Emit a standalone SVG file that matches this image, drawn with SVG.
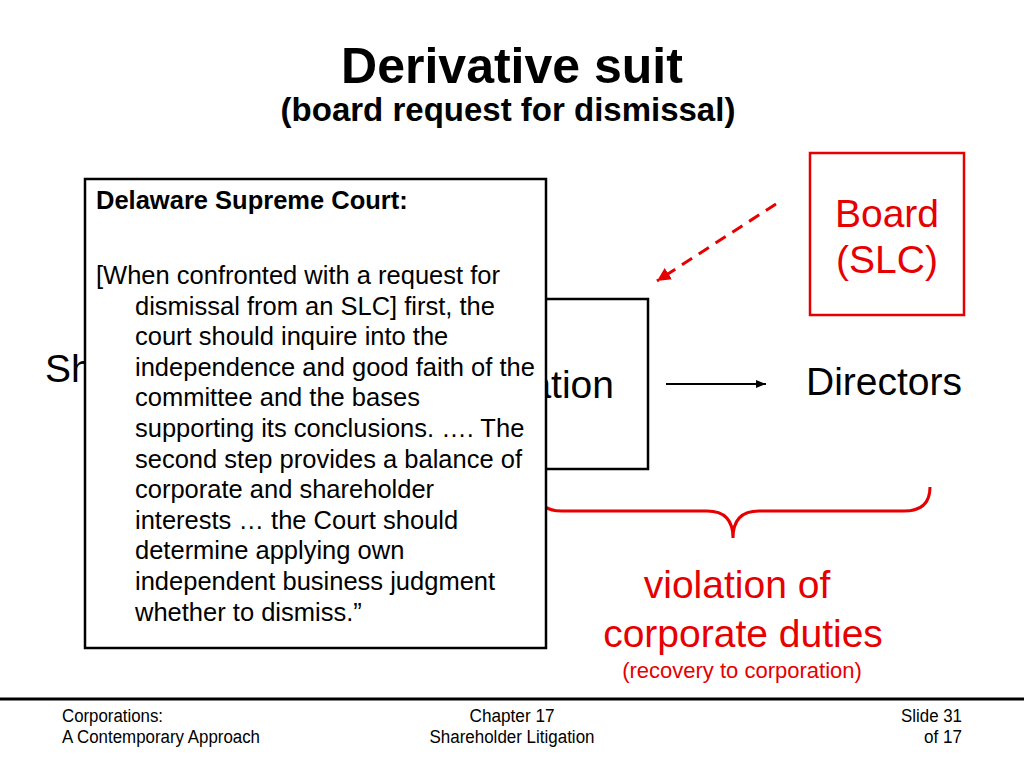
<svg xmlns="http://www.w3.org/2000/svg" width="1024" height="768" viewBox="0 0 1024 768">
  <style>
    text { font-family: "Liberation Sans", Arial, sans-serif; }
    .title { font-size: 50px; font-weight: bold; fill: #000; }
    .sub { font-size: 33px; font-weight: bold; fill: #000; }
    .big { font-size: 39px; fill: #000; }
    .red { fill: #e60000; }
    .quote { font-size: 25.5px; fill: #000; }
    .foot { font-family: "Liberation Sans Narrow", "Liberation Sans", Arial, sans-serif; font-size: 18px; fill: #000; }
    .box { fill: #fff; stroke: #000; stroke-width: 2.5; }
    .redbox { fill: none; stroke: #e60000; stroke-width: 2.5; }
  </style>
  <defs>
    <marker id="blackhead" viewBox="0 0 10 10" refX="10" refY="5" markerWidth="5" markerHeight="5" orient="auto" markerUnits="strokeWidth">
      <path d="M0,1 L10,5 L0,9 Z" fill="#000"/>
    </marker>
    <marker id="redhead" viewBox="0 0 10 10" refX="10" refY="5" markerWidth="4.5" markerHeight="4.5" orient="auto" markerUnits="strokeWidth">
      <path d="M0,0 L10,5 L0,10 Z" fill="#e60000"/>
    </marker>
  </defs>
  <rect width="1024" height="768" fill="#fff"/>

  <g id="title">
    <text class="title" x="512" y="83" text-anchor="middle">Derivative suit</text>
    <text class="sub" x="508" y="121" text-anchor="middle">(board request for dismissal)</text>
  </g>

  <g id="shareholder">
    <text class="big" x="45" y="382">Sh</text>
  </g>

  <g id="corporation">
    <rect class="box" x="380" y="299" width="268" height="170"/>
    <text class="big" x="614" y="398" text-anchor="end">ation</text>
  </g>

  <g id="directors">
    <text class="big" x="884" y="395" text-anchor="middle">Directors</text>
  </g>

  <g id="board">
    <rect class="redbox" x="810" y="153" width="154" height="162"/>
    <text class="big red" x="887" y="227" text-anchor="middle">Board</text>
    <text class="big red" x="887" y="273" text-anchor="middle">(SLC)</text>
  </g>

  <g id="connectors">
    <line x1="666" y1="384" x2="766" y2="384" stroke="#000" stroke-width="2" marker-end="url(#blackhead)"/>
    <line x1="776" y1="204" x2="657" y2="281" stroke="#e60000" stroke-width="3" stroke-dasharray="12 8" marker-end="url(#redhead)"/>
    <path d="M536,487 Q536,511 562,511 L707,511 Q733,511 733,538 Q733,511 759,511 L904,511 Q930,511 930,487" fill="none" stroke="#e60000" stroke-width="3"/>
  </g>

  <g id="violation">
    <text class="big red" x="737" y="598" text-anchor="middle">violation of</text>
    <text class="big red" x="743" y="647" text-anchor="middle">corporate duties</text>
    <text class="red" x="742" y="678" text-anchor="middle" font-size="22">(recovery to corporation)</text>
  </g>

  <g id="quote">
    <rect class="box" x="85" y="179" width="461" height="469"/>
    <text class="quote" x="96" y="209" font-weight="bold">Delaware Supreme Court:</text>
    <text class="quote" x="96" y="284">[When confronted with a request for</text>
    <text class="quote" x="135" y="314.6">dismissal from an SLC] first, the</text>
    <text class="quote" x="135" y="345.2">court should inquire into the</text>
    <text class="quote" x="135" y="375.8">independence and good faith of the</text>
    <text class="quote" x="135" y="406.4">committee and the bases</text>
    <text class="quote" x="135" y="437">supporting its conclusions. ….  The</text>
    <text class="quote" x="135" y="467.6">second step provides a balance of</text>
    <text class="quote" x="135" y="498.2">corporate and shareholder</text>
    <text class="quote" x="135" y="528.8">interests … the Court should</text>
    <text class="quote" x="135" y="559.4">determine applying own</text>
    <text class="quote" x="135" y="590">independent business judgment</text>
    <text class="quote" x="135" y="620.6">whether to dismiss.”</text>
  </g>

  <g id="footer">
    <line x1="0" y1="699" x2="1024" y2="699" stroke="#000" stroke-width="3"/>
    <text class="foot" x="62" y="722" textLength="101" lengthAdjust="spacingAndGlyphs">Corporations:</text>
    <text class="foot" x="62" y="743" textLength="198" lengthAdjust="spacingAndGlyphs">A Contemporary Approach</text>
    <text class="foot" x="512" y="722" text-anchor="middle" textLength="85" lengthAdjust="spacingAndGlyphs">Chapter 17</text>
    <text class="foot" x="512" y="743" text-anchor="middle" textLength="165" lengthAdjust="spacingAndGlyphs">Shareholder Litigation</text>
    <text class="foot" x="962" y="722" text-anchor="end" textLength="61" lengthAdjust="spacingAndGlyphs">Slide 31</text>
    <text class="foot" x="962" y="743" text-anchor="end" textLength="38" lengthAdjust="spacingAndGlyphs">of 17</text>
  </g>
</svg>
